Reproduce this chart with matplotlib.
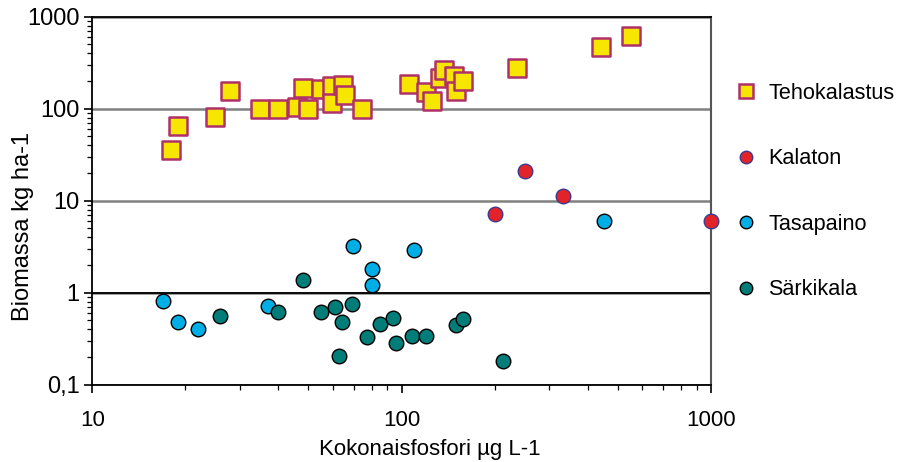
import matplotlib.pyplot as plt
import matplotlib.ticker as mticker
from matplotlib.lines import Line2D

plt.rcParams["font.family"] = ["Liberation Sans", "DejaVu Sans"]

# Tehokalastus (squares)
teho_x = [17.9, 18.9, 24.9, 27.9, 34.9, 40.0, 45.9, 48.0, 50.0, 55.0, 59.8, 59.8,
          64.9, 65.7, 74.6, 105.4, 120.0, 125.4, 133.4, 136.8, 147.3, 150.6, 157.5,
          235.5, 442.7, 553.6]
teho_y = [35.6, 65.3, 81.2, 155.7, 98.5, 100.0, 105.0, 166.7, 100.0, 165.0, 176.6, 114.5,
          182.6, 141.0, 100.0, 185.5, 153.0, 121.0, 213.9, 261.0, 228.0, 155.7, 199.0,
          274.9, 465.0, 617.0]

# Kalaton
kala_x = [201, 251, 334, 1000]
kala_y = [7.17, 21.0, 11.2, 5.97]

# Tasapaino
tasa_x = [16.9, 18.9, 21.9, 36.9, 69.9, 80.2, 80.2, 109.4, 452.6]
tasa_y = [0.81, 0.484, 0.406, 0.717, 3.24, 1.81, 1.20, 2.91, 6.0]

# Särkikala
sark_x = [25.9, 40.0, 48.0, 55.0, 61.0, 64.0, 63.0, 69.1, 77.1, 85.1, 93.8, 96.1,
          108.0, 120.2, 150.3, 157.5, 212.8]
sark_y = [0.558, 0.612, 1.36, 0.62, 0.705, 0.48, 0.205, 0.76, 0.33, 0.457, 0.527, 0.284,
          0.341, 0.341, 0.449, 0.52, 0.182]

fig = plt.figure(figsize=(9.17, 4.62), dpi=100)
ax = fig.add_axes([0.1007, 0.1673, 0.6743, 0.7966])

sq_face, sq_edge = "#f7e600", "#b0306a"
red, red_edge = "#e2242a", "#3b3a8c"
blue, teal = "#00aee6", "#007d78"

ax.scatter(teho_x, teho_y, marker="s", s=150, c=sq_face, edgecolors=sq_edge, linewidths=1.8, zorder=3)
ax.scatter(kala_x, kala_y, marker="o", s=110, c=red, edgecolors=red_edge, linewidths=1.0, zorder=3, clip_on=False)
ax.scatter(tasa_x, tasa_y, marker="o", s=110, c=blue, edgecolors="black", linewidths=1.0, zorder=3)
ax.scatter(sark_x, sark_y, marker="o", s=110, c=teal, edgecolors="black", linewidths=1.0, zorder=4)

ax.set_xscale("log")
ax.set_yscale("log")
ax.set_xlim(10, 1000)
ax.set_ylim(0.1, 1000)

ax.yaxis.set_major_formatter(mticker.FuncFormatter(lambda v, p: f"{v:g}".replace(".", ",")))
ax.xaxis.set_major_formatter(mticker.FuncFormatter(lambda v, p: f"{v:g}"))
ax.xaxis.set_minor_formatter(mticker.NullFormatter())
ax.yaxis.set_minor_formatter(mticker.NullFormatter())

ax.tick_params(axis="both", which="major", direction="out", length=6, width=1.2, colors="black")
ax.tick_params(axis="both", which="minor", direction="out", length=3.5, width=0.9)
ax.tick_params(axis="x", labelsize=16, pad=12)
ax.tick_params(axis="y", labelsize=17, pad=3)

# horizontal reference lines: grey at 10 and 100, black at 1
ax.yaxis.grid(True, which="major", color="#808080", linewidth=1.8, zorder=1)
ax.axhline(1, color="black", linewidth=1.3, zorder=2)
ax.set_axisbelow(True)

for side in ["left", "bottom", "top"]:
    ax.spines[side].set_color("black")
    ax.spines[side].set_linewidth(1.3)
ax.spines["right"].set_color("#555555")
ax.spines["right"].set_linewidth(1.5)

ax.set_xlabel("Kokonaisfosfori µg L-1", fontsize=16)
ax.xaxis.set_label_coords(0.545, -0.148)
ax.set_ylabel("Biomassa kg ha-1", fontsize=17)
ax.yaxis.set_label_coords(-0.095, 0.431)

handles = [
    Line2D([], [], ls="none", marker="s", ms=10, mfc=sq_face, mec=sq_edge, mew=1.8),
    Line2D([], [], ls="none", marker="o", ms=9, mfc=red, mec=red_edge, mew=1.0),
    Line2D([], [], ls="none", marker="o", ms=9, mfc=blue, mec="black", mew=1.0),
    Line2D([], [], ls="none", marker="o", ms=9, mfc=teal, mec="black", mew=1.0),
]
labels = ["Tehokalastus", "Kalaton", "Tasapaino", "Särkikala"]
fig.legend(handles, labels, loc="upper left", bbox_to_anchor=(0.787, 0.844), frameon=False,
           fontsize=15.6, labelspacing=2.05, handletextpad=0.45, handlelength=1.2, borderpad=0)

fig.savefig("out.png", dpi=100)
